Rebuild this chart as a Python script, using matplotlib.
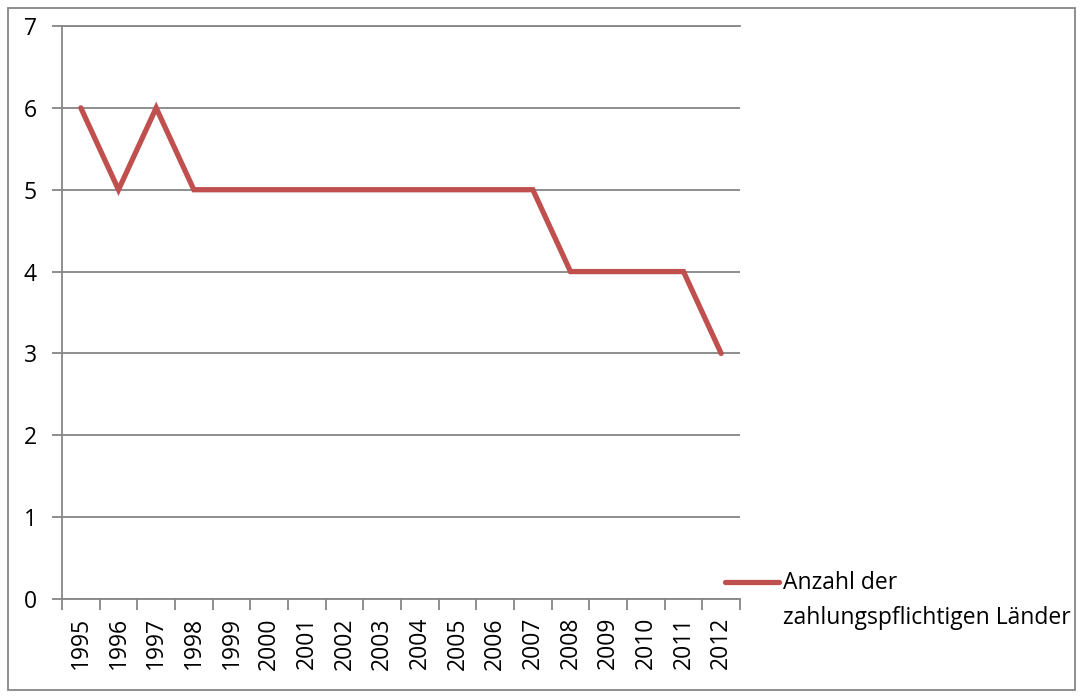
import matplotlib
matplotlib.use("Agg")
import matplotlib.pyplot as plt
from matplotlib.lines import Line2D
from matplotlib.patches import Rectangle
import numpy as np

years = ["1995", "1996", "1997", "1998", "1999", "2000", "2001", "2002", "2003",
         "2004", "2005", "2006", "2007", "2008", "2009", "2010", "2011", "2012"]
countries = [6, 5, 6, 5, 5, 5, 5, 5, 5, 5, 5, 5, 5, 4, 4, 4, 4, 3]
label = "Anzahl der\nzahlungspflichtigen Länder"

plt.rcParams['font.family'] = ['Open Sans', 'DejaVu Sans']
grey = "#868686"
red = "#C0504D"
fs = 16.5

fig = plt.figure(figsize=(10.8, 6.99), dpi=100)
ax = fig.add_axes([62/1080, 100/699, 678/1080, 573/699])

x = np.arange(len(years))
ax.plot(x, countries, color=red, linewidth=3.8, solid_capstyle='round', solid_joinstyle='miter')

ax.set_xlim(-0.5, len(years) - 0.5)
ax.set_ylim(0, 7)
ax.set_yticks(range(0, 8))
ax.yaxis.grid(True, color=grey, linewidth=1.3)
ax.set_axisbelow(True)

ax.set_xticks(x)
ax.set_xticklabels(years, rotation=90, fontsize=fs)
ax.set_xticks(np.arange(-0.5, len(years)), minor=True)
ax.tick_params(axis='x', which='major', length=0, pad=13)
ax.tick_params(axis='x', which='minor', length=8, width=1.3, color=grey, direction='out')
ax.tick_params(axis='y', length=7, width=1.3, color=grey, direction='out', pad=11, labelsize=fs)

ax.spines['right'].set_visible(False)
for s in ['left', 'bottom', 'top']:
    ax.spines[s].set_color(grey)
    ax.spines[s].set_linewidth(1.3)

# legend drawn by hand so the line sits at the first text line
fig.add_artist(Line2D([725/1080, 779/1080], [1 - 582/699, 1 - 582/699], color=red,
                      linewidth=3.8, solid_capstyle='round', transform=fig.transFigure))
fig.text(783/1080, 1 - 571/699, label, fontsize=fs, va='top', ha='left',
         linespacing=1.6, transform=fig.transFigure)

# outer chart border
fig.add_artist(Rectangle((8/1080, 9/699), 1067/1080, 682/699, fill=False,
                         edgecolor=grey, linewidth=1.3, transform=fig.transFigure))

fig.savefig("out.png", dpi=100)
